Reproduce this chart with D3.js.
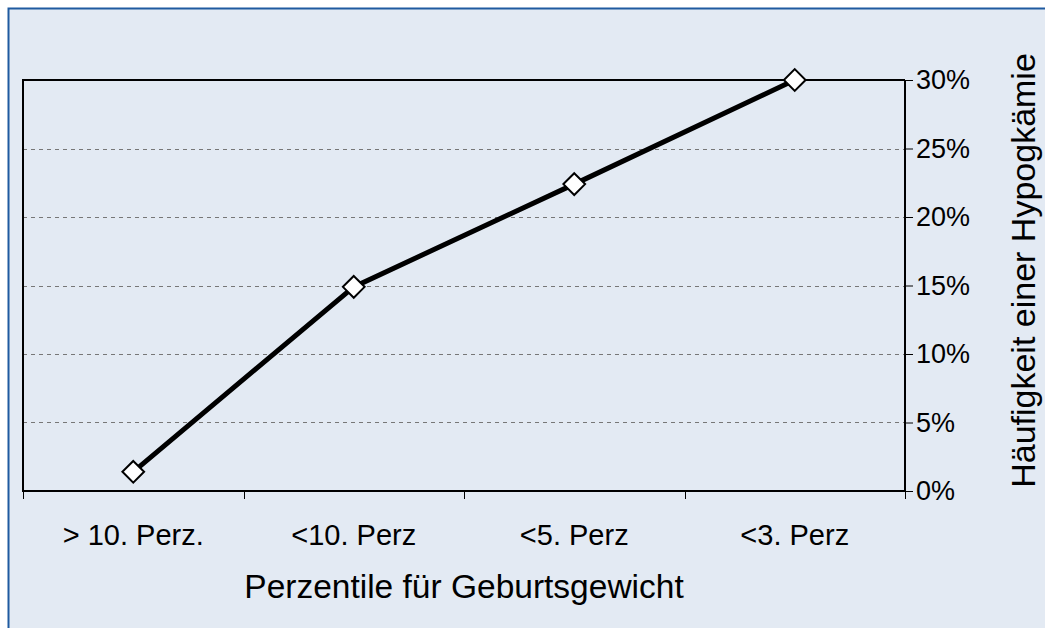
<!DOCTYPE html>
<html>
<head>
<meta charset="utf-8">
<script src="https://cdn.jsdelivr.net/npm/d3@7"></script>
<style>
  html, body { margin: 0; padding: 0; background: #fff; }
  svg { display: block; font-family: "Liberation Sans", Arial, sans-serif; }
</style>
</head>
<body>
<svg id="chart" width="1045" height="628"></svg>
<script>
// data
const categories = ['> 10. Perz.', '<10. Perz', '<5. Perz', '<3. Perz']
const values = [0.014, 0.149, 0.224, 0.30]
const yTicks = [0, 0.05, 0.10, 0.15, 0.20, 0.25, 0.30]

const svg = d3.select('#chart')
const W = 1045, H = 628
const plot = {left: 23, right: 905, top: 80, bottom: 491}

// outer frame
svg.append('rect').attr('x', 8).attr('y', 8).attr('width', W - 8).attr('height', H - 8)
  .attr('fill', '#e3eaf3')
svg.append('path').attr('d', `M8.5,${H} V8.5 H${W}`)
  .attr('fill', 'none').attr('stroke', '#1f5aa0').attr('stroke-width', 2)

const x = d3.scaleBand().domain(categories).range([plot.left, plot.right])
const y = d3.scaleLinear().domain([0, 0.3]).range([plot.bottom, plot.top])

// gridlines (dashed)
svg.append('g')
  .selectAll('line')
  .data(yTicks.filter((t) => t > 0 && t < 0.3))
  .join('line')
  .attr('x1', plot.left).attr('x2', plot.right)
  .attr('y1', (d) => Math.round(y(d)) + 0.5).attr('y2', (d) => Math.round(y(d)) + 0.5)
  .attr('stroke', '#777').attr('stroke-width', 1).attr('stroke-dasharray', '4,4')

// plot frame: left + top
svg.append('path')
  .attr('d', `M${plot.left},${plot.bottom} V${plot.top} H${plot.right}`)
  .attr('fill', 'none').attr('stroke', '#000').attr('stroke-width', 2)

// right axis
const yAxis = d3.axisRight(y).tickValues(yTicks).tickFormat(d3.format('.0%')).tickSize(8).tickPadding(3)
const gy = svg.append('g').attr('transform', `translate(${plot.right},0)`).call(yAxis)
gy.select('.domain').attr('stroke', '#000').attr('stroke-width', 2).attr('d', `M0,${plot.bottom}V${plot.top}`)
gy.selectAll('.tick line').attr('stroke', '#000').attr('stroke-width', 1)
gy.selectAll('.tick text').attr('font-size', 27).attr('fill', '#000')
  .attr('font-family', '"Liberation Sans", Arial, sans-serif')

// bottom axis: ticks at band boundaries
svg.append('line')
  .attr('x1', plot.left - 1).attr('x2', plot.right)
  .attr('y1', plot.bottom).attr('y2', plot.bottom)
  .attr('stroke', '#000').attr('stroke-width', 2)
const bounds = categories.map((c) => x(c)).concat([x(categories[categories.length - 1]) + x.bandwidth()])
svg.append('g').selectAll('line').data(bounds).join('line')
  .attr('x1', (d) => Math.round(d) + 0.5).attr('x2', (d) => Math.round(d) + 0.5)
  .attr('y1', plot.bottom).attr('y2', plot.bottom + 8)
  .attr('stroke', '#000').attr('stroke-width', 1)
svg.append('g').selectAll('text').data(categories).join('text')
  .attr('x', (d) => x(d) + x.bandwidth() / 2)
  .attr('y', 545)
  .attr('text-anchor', 'middle')
  .attr('font-size', 29)
  .text((d) => d)

// axis titles
svg.append('text')
  .attr('x', (plot.left + plot.right) / 2).attr('y', 598)
  .attr('text-anchor', 'middle').attr('font-size', 33.5)
  .text('Perzentile für Geburtsgewicht')
svg.append('text')
  .attr('transform', `translate(1035,${(plot.top + plot.bottom) / 2 - 15}) rotate(-90)`)
  .attr('text-anchor', 'middle').attr('font-size', 34)
  .text('Häufigkeit einer Hypogkämie')

// line
const line = d3.line()
  .x((d, i) => x(categories[i]) + x.bandwidth() / 2)
  .y((d) => y(d))
svg.append('path').datum(values)
  .attr('d', line).attr('fill', 'none').attr('stroke', '#000').attr('stroke-width', 5)

// diamond markers
svg.append('g').selectAll('path').data(values).join('path')
  .attr('transform', (d, i) => `translate(${x(categories[i]) + x.bandwidth() / 2},${y(d)})`)
  .attr('d', d3.symbol(d3.symbolDiamond2, 300))
  .attr('fill', '#fff').attr('stroke', '#000').attr('stroke-width', 2)
</script>
</body>
</html>
